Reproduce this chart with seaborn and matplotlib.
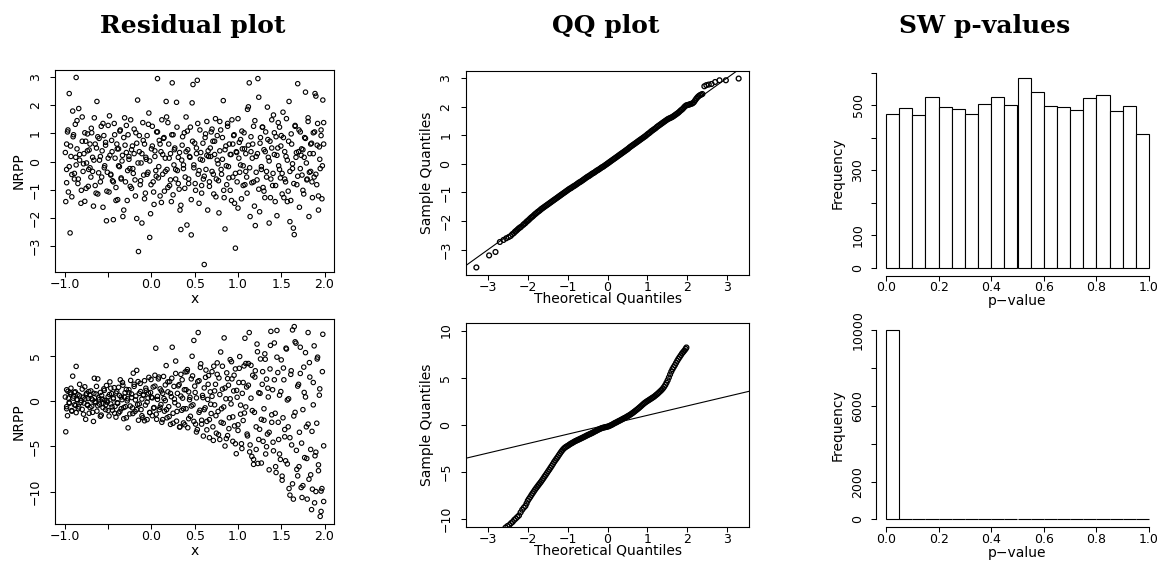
import matplotlib
matplotlib.use("Agg")
import matplotlib.pyplot as plt
import seaborn as sns

# residual plots: x positions (shared by both rows)
res_x = [
    -0.99, -0.98, -0.98, -0.97, -0.96, -0.95, -0.94, -0.93, -0.92, -0.91,
    -0.90, -0.89, -0.88, -0.87, -0.87, -0.86, -0.85, -0.84, -0.83, -0.81,
    -0.80, -0.79, -0.78, -0.77, -0.76, -0.75, -0.74, -0.73, -0.72, -0.71,
    -0.70, -0.69, -0.68, -0.67, -0.66, -0.65, -0.64, -0.63, -0.62, -0.61,
    -0.60, -0.59, -0.58, -0.57, -0.56, -0.55, -0.54, -0.53, -0.52, -0.51,
    -0.50, -0.49, -0.48, -0.47, -0.46, -0.45, -0.44, -0.43, -0.42, -0.41,
    -0.40, -0.39, -0.38, -0.37, -0.36, -0.35, -0.34, -0.33, -0.32, -0.31,
    -0.30, -0.29, -0.28, -0.27, -0.26, -0.25, -0.24, -0.23, -0.22, -0.21,
    -0.20, -0.19, -0.18, -0.17, -0.16, -0.15, -0.14, -0.13, -0.12, -0.11,
    -0.10, -0.09, -0.08, -0.07, -0.06, -0.05, -0.04, -0.03, -0.02, -0.01,
    0.00, 0.01, 0.02, 0.03, 0.04, 0.05, 0.06, 0.07, 0.08, 0.09,
    0.10, 0.11, 0.12, 0.13, 0.14, 0.15, 0.16, 0.17, 0.18, 0.19,
    0.20, 0.21, 0.22, 0.23, 0.24, 0.25, 0.26, 0.27, 0.28, 0.29,
    0.30, 0.31, 0.32, 0.33, 0.34, 0.35, 0.36, 0.37, 0.38, 0.39,
    0.40, 0.41, 0.42, 0.43, 0.44, 0.45, 0.46, 0.47, 0.48, 0.49,
    0.50, 0.51, 0.52, 0.53, 0.54, 0.55, 0.56, 0.57, 0.58, 0.59,
    0.60, 0.61, 0.62, 0.63, 0.64, 0.65, 0.66, 0.67, 0.68, 0.69,
    0.70, 0.71, 0.72, 0.73, 0.74, 0.75, 0.76, 0.77, 0.78, 0.79,
    0.80, 0.81, 0.82, 0.83, 0.84, 0.85, 0.86, 0.87, 0.88, 0.89,
    0.90, 0.91, 0.92, 0.93, 0.94, 0.95, 0.96, 0.97, 0.98, 0.99,
    1.00, 1.01, 1.02, 1.03, 1.04, 1.05, 1.06, 1.07, 1.08, 1.09,
    1.10, 1.11, 1.12, 1.13, 1.14, 1.15, 1.16, 1.17, 1.18, 1.19,
    1.20, 1.21, 1.22, 1.23, 1.24, 1.25, 1.26, 1.27, 1.28, 1.29,
    1.30, 1.31, 1.32, 1.33, 1.34, 1.35, 1.36, 1.37, 1.38, 1.39,
    1.40, 1.41, 1.42, 1.43, 1.44, 1.45, 1.46, 1.47, 1.48, 1.49,
    1.50, 1.51, 1.52, 1.53, 1.54, 1.55, 1.56, 1.57, 1.58, 1.59,
    1.60, 1.61, 1.62, 1.63, 1.64, 1.65, 1.66, 1.67, 1.68, 1.69,
    1.70, 1.71, 1.72, 1.73, 1.74, 1.75, 1.76, 1.77, 1.78, 1.79,
    1.80, 1.81, 1.82, 1.83, 1.84, 1.85, 1.86, 1.87, 1.88, 1.89,
    1.90, 1.91, 1.92, 1.93, 1.94, 1.95, 1.96, 1.97, 1.98, 1.99,
    -0.995, -0.980, -0.965, -0.950, -0.935, -0.920, -0.905, -0.890, -0.875, -0.860,
    -0.845, -0.830, -0.815, -0.800, -0.785, -0.770, -0.755, -0.740, -0.725, -0.710,
    -0.695, -0.680, -0.665, -0.650, -0.635, -0.620, -0.605, -0.590, -0.575, -0.560,
    -0.545, -0.530, -0.515, -0.500, -0.485, -0.470, -0.455, -0.440, -0.425, -0.410,
    -0.395, -0.380, -0.365, -0.350, -0.335, -0.320, -0.305, -0.290, -0.275, -0.260,
    -0.245, -0.230, -0.215, -0.200, -0.185, -0.170, -0.155, -0.140, -0.125, -0.110,
    -0.095, -0.080, -0.065, -0.050, -0.035, -0.020, -0.005, 0.010, 0.025, 0.040,
    0.055, 0.070, 0.085, 0.100, 0.115, 0.130, 0.145, 0.160, 0.175, 0.190,
    0.205, 0.220, 0.235, 0.250, 0.265, 0.280, 0.295, 0.310, 0.325, 0.340,
    0.355, 0.370, 0.385, 0.400, 0.415, 0.430, 0.445, 0.460, 0.475, 0.490,
    0.505, 0.520, 0.535, 0.550, 0.565, 0.580, 0.595, 0.610, 0.625, 0.640,
    0.655, 0.670, 0.685, 0.700, 0.715, 0.730, 0.745, 0.760, 0.775, 0.790,
    0.805, 0.820, 0.835, 0.850, 0.865, 0.880, 0.895, 0.910, 0.925, 0.940,
    0.955, 0.970, 0.985, 1.000, 1.015, 1.030, 1.045, 1.060, 1.075, 1.090,
    1.105, 1.120, 1.135, 1.150, 1.165, 1.180, 1.195, 1.210, 1.225, 1.240,
    1.255, 1.270, 1.285, 1.300, 1.315, 1.330, 1.345, 1.360, 1.375, 1.390,
    1.405, 1.420, 1.435, 1.450, 1.465, 1.480, 1.495, 1.510, 1.525, 1.540,
    1.555, 1.570, 1.585, 1.600, 1.615, 1.630, 1.645, 1.660, 1.675, 1.690,
    1.705, 1.720, 1.735, 1.750, 1.765, 1.780, 1.795, 1.810, 1.825, 1.840,
    1.855, 1.870, 1.885, 1.900, 1.915, 1.930, 1.945, 1.960, 1.975, 1.990,
]

# residual plot, top row (NRPP)
res_top_y = [
    -1.42, 0.62, -0.28, 1.05, -1.08, 2.41, -2.53, 0.18, -0.46, 1.79,
    0.95, -0.62, 1.32, 2.98, -0.12, 0.45, -0.78, 1.88, 0.05, -1.02,
    1.58, -0.35, 0.28, -1.41, 0.72, -0.05, 0.98, -0.88, 0.41, -0.22,
    -0.55, 1.02, 0.15, -1.58, 1.55, 0.62, -1.12, 2.13, 0.88, -0.40,
    0.05, -0.72, 1.25, 0.38, -1.62, 0.92, -0.15, 0.58, -2.10, -0.38,
    1.28, -1.08, 0.22, -0.45, 0.75, -0.68, -2.06, 1.35, 0.12, -0.92,
    0.62, -1.35, 0.45, -0.18, 1.12, -0.58, 0.02, -1.95, 0.85, 1.55,
    -0.72, 0.32, -1.38, 0.95, 0.18, -0.25, 1.48, -0.95, 0.55, -0.42,
    0.28, -0.65, 1.02, -2.02, 2.18, -3.19, 0.35, -0.82, -0.05, -2.18,
    1.38, -0.48, 0.62, -1.12, 0.08, 0.92, -0.38, 1.72, -2.69, -1.85,
    0.45, 1.25, -0.72, -1.52, 0.18, -0.32, 1.05, 2.94, -0.58, 0.75,
    -1.22, 0.35, 1.48, -0.45, 0.82, -1.05, 0.12, 2.13, -0.28, 1.38,
    0.62, -0.85, 0.28, -1.42, 2.79, 0.95, -0.12, 0.48, -0.62, 2.10,
    -0.32, 0.15, -0.98, -1.72, -2.41, 0.05, 0.88, -0.25, 1.02, -0.55,
    1.58, -2.25, 0.42, -0.78, 0.18, 1.22, -2.60, 2.08, 2.73, -0.12,
    0.65, -1.02, 0.28, 2.88, -0.45, -1.48, 1.12, 0.32, -0.85, 0.05,
    -0.62, -3.65, 0.85, -0.28, 1.42, -1.72, 0.18, -0.72, 0.48, 1.05,
    -0.35, 0.72, -1.15, 0.25, 1.52, -0.62, 0.92, -0.08, -1.82, 0.38,
    1.12, -0.45, 0.08, 2.16, -1.28, -2.39, 0.55, -0.82, 1.35, -0.18,
    0.62, -1.02, 0.25, 1.48, -0.55, 0.92, -1.48, -3.07, 0.35, -0.72,
    1.52, 0.12, -0.38, 0.78, -1.32, 0.45, -0.15, 1.02, -0.82, 0.28,
    -0.55, 1.85, 1.94, 2.79, -1.95, 0.35, -0.75, 0.62, 1.25, -1.58,
    -2.27, 0.18, -0.65, 2.94, 2.28, -1.78, 0.85, -0.28, 1.22, -0.92,
    0.42, -1.28, 1.05, -0.35, 1.93, 0.15, -2.18, 0.72, -0.62, 1.48,
    -0.85, 1.65, 0.25, -1.42, 0.88, -1.92, 0.48, -0.15, 1.22, -0.58,
    0.92, -0.42, 1.75, -1.28, 0.35, -0.72, 1.52, 0.05, -1.05, 2.13,
    -2.13, -1.38, 0.62, -0.25, -2.36, -2.59, 1.28, 0.15, -0.82, 2.76,
    0.35, -1.62, 1.05, 0.22, -0.48, 0.42, -1.15, 0.85, 2.46, -0.05,
    -0.62, 1.42, -1.95, 0.28, -0.35, 0.65, -1.28, 1.02, -0.55, 2.41,
    2.32, -0.82, 1.35, -1.72, 0.52, -0.25, 1.12, -1.32, 2.18, 0.62,
    0.32, -0.75, 1.12, -0.18, 0.55, -1.25, 0.88, -0.42, 0.15, 1.45,
    -0.62, 0.25, -1.48, 0.72, -0.08, 1.02, -0.95, 0.38, -0.28, 0.62,
    1.18, -0.35, 0.05, -0.85, 0.48, -1.15, 0.82, 0.18, -0.55, 1.35,
    -0.22, 0.68, -1.05, 0.12, 1.62, -0.48, 0.35, -0.72, 0.95, -1.38,
    0.45, -0.15, 1.08, -0.62, 0.22, -1.72, 0.58, 1.28, -0.32, 0.08,
    -0.88, 0.42, -0.25, 1.15, -1.22, 0.65, -0.05, 0.92, -0.68, 0.28,
    0.75, -1.32, 0.15, -0.45, 1.32, 0.02, -0.82, 0.55, -1.08, 0.38,
    -0.52, 1.05, -0.18, 0.62, -1.45, 0.25, 0.85, -0.35, 1.58, -0.92,
    0.12, -0.65, 0.95, -1.18, 0.42, -0.28, 1.22, -0.78, 0.32, -1.55,
    0.58, -0.12, -0.95, 0.35, 1.08, -0.62, 0.15, -1.35, 0.72, -0.22,
    -0.78, 0.48, 1.35, -0.32, 0.08, -1.12, 0.65, -0.52, 0.98, 0.22,
    0.38, -0.88, 0.18, 1.15, -0.45, 0.72, -1.25, 0.05, -0.68, 1.42,
    -0.28, 0.85, -1.02, 0.42, -0.15, 1.25, -0.58, 0.25, -1.38, 0.62,
    0.95, -0.42, 0.32, -1.65, 0.68, -0.12, 1.08, -0.85, 0.45, -0.35,
    -1.12, 0.58, -0.22, 0.88, 0.12, -0.72, 1.45, -0.38, 0.28, -0.98,
    0.65, -0.18, 1.22, -1.05, 0.35, -0.55, 0.78, 0.02, -1.28, 0.48,
    -0.42, 1.02, -0.85, 0.22, 1.38, -0.28, 0.55, -1.15, 0.85, -0.62,
    0.18, -1.42, 0.72, -0.35, 0.98, -0.08, -0.78, 1.25, 0.32, -0.52,
    1.12, -0.25, 0.45, -1.02, 0.15, 0.82, -0.65, 1.55, -0.38, 0.62,
    -0.72, 0.28, 1.05, -0.45, 0.58, -1.22, 0.08, 0.92, -0.15, 1.38,
]

# residual plot, bottom row (NRPP)
res_bot_y = [
    -3.40, -0.85, 1.25, -1.62, 0.32, -0.15, 0.95, 1.42, -1.05, 2.75,
    0.55, -0.42, 1.02, 3.83, -1.28, 0.18, 0.72, -0.65, 1.85, 0.05,
    -0.92, 0.42, -0.22, 1.58, -2.02, 0.85, -0.48, 0.28, -1.35, 0.65,
    1.12, -0.58, 0.12, -2.25, 2.52, -0.18, 0.78, -1.12, 2.45, 0.35,
    -0.35, 0.95, -1.55, 0.22, -0.72, 1.35, 0.08, -0.95, 1.72, -0.12,
    0.48, -1.65, 2.12, -0.32, 0.82, -1.02, 0.25, 1.48, -0.58, -1.78,
    1.05, -0.25, -1.32, 0.62, 2.35, -0.85, 0.15, 1.75, -1.95, 0.42,
    -0.62, 1.28, 0.02, -2.96, 0.92, -1.42, 2.28, 0.38, -0.75, 3.08,
    1.62, -1.15, 0.55, 3.39, -0.38, -2.12, 0.85, 1.95, -0.95, 0.22,
    -1.85, 0.68, 2.25, -0.45, 1.18, -2.05, 0.32, 2.62, -1.25, 0.95,
    0.42, -1.62, 1.55, -0.72, 2.85, 5.84, -2.02, 0.18, 2.45, -0.95,
    1.35, -0.38, -2.35, 0.85, 2.72, -1.12, 0.05, 3.92, -1.85, 1.02,
    -0.62, 2.15, -2.58, 0.48, 5.95, -1.35, 1.62, -0.18, 4.42, -2.22,
    0.85, -0.45, 1.82, -2.85, 2.95, -1.02, 0.32, -2.42, 1.25, 3.22,
    -0.85, 3.25, -2.95, 1.02, 0.15, -1.68, 2.45, 4.95, -0.42, 6.70,
    1.65, -2.55, 0.35, -3.15, 7.57, 2.25, -1.02, 4.12, -2.12, 0.62,
    -3.87, 1.45, -0.75, 3.42, -2.25, 0.18, 2.82, -4.05, 1.02, -1.38,
    0.52, -2.85, 3.85, -0.42, 1.85, -3.55, 4.22, -1.15, 2.55, -4.25,
    5.42, -0.85, 1.32, -2.45, 6.98, -4.97, 0.25, 3.12, -3.82, 1.75,
    -1.85, 4.58, -0.32, 2.45, -4.45, 1.12, -2.75, 3.55, -5.82, 0.42,
    -3.25, 2.05, 4.92, -1.45, -4.72, 0.85, -2.15, 3.88, 6.94, -0.65,
    1.55, -3.85, 4.15, 7.57, -4.85, 0.32, -6.12, 2.85, -7.00, -1.25,
    3.35, -5.35, 6.30, -6.90, 0.92, -3.12, 4.65, -2.02, 1.85, -4.45,
    -0.85, 5.22, -5.85, 2.42, -3.65, 0.45, -7.60, 3.55, 7.70, -2.35,
    1.25, -5.50, 6.42, -1.35, -7.90, 7.80, 3.15, -4.25, 0.65, -6.45,
    4.55, -8.30, -1.85, 2.35, -3.95, -6.60, 5.75, 0.12, -2.85, -9.67,
    -10.40, 2.95, -4.85, 7.86, -10.84, 8.23, -1.25, 6.40, -7.55, -8.27,
    1.85, -3.45, 5.95, -9.56, -10.66, -0.95, 3.75, -6.25, 0.45, -2.85,
    -10.84, 7.57, -8.64, 2.65, -5.35, -12.00, -9.74, -0.42, 6.10, -6.05,
    -10.00, -2.45, 4.85, -7.70, 0.65, -12.75, -12.20, -9.67, 7.38, -11.10,
    0.45, -0.62, 1.08, -0.25, 0.78, -1.12, 0.32, 0.95, -0.48, 0.12,
    -0.85, 0.58, -0.15, 1.32, -1.45, 0.22, 0.68, -0.38, 1.05, -0.72,
    0.28, -1.25, 0.85, -0.05, 1.62, -0.52, 0.15, -1.68, 0.62, -0.28,
    1.18, -0.42, 0.05, -1.05, 0.72, 1.42, -0.65, 0.35, -1.35, 0.88,
    -0.18, 1.52, -1.15, 0.45, 2.05, -0.72, 0.92, -1.85, 0.25, 1.25,
    -0.55, 0.78, -1.38, 1.85, 0.12, -0.95, 2.15, -0.32, 1.05, -1.62,
    0.65, -2.18, 1.42, -0.12, 0.88, -1.28, 2.38, 0.35, -0.78, 1.65,
    -1.45, 0.52, 2.65, -0.68, 1.12, -2.05, 0.28, 1.78, -0.95, 2.12,
    -1.72, 0.85, 2.52, -2.45, 0.22, 3.05, -1.15, 1.68, -2.88, 0.55,
    2.35, -0.85, -2.62, 1.25, 3.48, -1.95, 0.42, -0.55, 2.78, -2.25,
    0.95, -3.42, 2.15, -1.25, 3.72, -2.55, 0.38, -0.95, 2.62, -3.18,
    1.85, -2.05, -0.35, 3.25, -4.35, 1.12, -1.62, 2.95, -3.72, 0.72,
    -2.35, 3.85, -0.65, 1.45, -4.15, 2.48, -3.05, 0.25, 4.35, -1.75,
    2.85, -4.72, 1.18, -2.62, 3.62, -0.45, -5.25, 2.05, -1.32, 4.15,
    -3.65, 1.75, -5.62, 3.95, -1.05, -6.45, 2.65, -2.85, 5.45, -4.25,
    0.85, -6.85, 3.25, -2.12, 4.62, -5.05, 1.42, -3.45, 6.15, -1.52,
    -4.55, 2.35, -7.25, 4.85, -2.35, -5.85, 1.05, -8.75, 3.65, -3.15,
    5.85, -6.95, 0.25, -4.05, 3.35, -9.15, -1.65, 6.55, -5.45, 1.65,
    -7.25, 3.05, -4.65, -9.35, 0.95, 5.35, -6.35, -2.55, 4.25, -8.15,
    -3.35, 2.05, -11.25, -5.65, 4.65, -7.05, 1.35, -9.95, 3.25, -4.95,
]

# QQ plot, top row (theoretical quantile, sample quantile)
qq_top_theo = [
    -3.29, -2.97, -2.81, -2.70, -2.61, -2.54, -2.48, -2.43, -2.39, -2.35,
    -2.32, -2.29, -2.26, -2.23, -2.20, -2.17,
    -2.12, -2.09, -2.06, -2.03, -2.00, -1.97, -1.94, -1.91, -1.88, -1.85,
    -1.82, -1.79, -1.76, -1.73, -1.70, -1.67, -1.64, -1.61, -1.58, -1.55,
    -1.52, -1.49, -1.46, -1.43, -1.40, -1.37, -1.34, -1.31, -1.28, -1.25,
    -1.22, -1.19, -1.16, -1.13, -1.10, -1.07, -1.04, -1.01, -0.98, -0.95,
    -0.92, -0.89, -0.86, -0.83, -0.80, -0.77, -0.74, -0.71, -0.68, -0.65,
    -0.62, -0.59, -0.56, -0.53, -0.50, -0.47, -0.44, -0.41, -0.38, -0.35,
    -0.32, -0.29, -0.26, -0.23, -0.20, -0.17, -0.14, -0.11, -0.08, -0.05,
    -0.02, 0.01, 0.04, 0.07, 0.10, 0.13, 0.16, 0.19, 0.22, 0.25,
    0.28, 0.31, 0.34, 0.37, 0.40, 0.43, 0.46, 0.49, 0.52, 0.55,
    0.58, 0.61, 0.64, 0.67, 0.70, 0.73, 0.76, 0.79, 0.82, 0.85,
    0.88, 0.91, 0.94, 0.97, 1.00, 1.03, 1.06, 1.09, 1.12, 1.15,
    1.18, 1.21, 1.24, 1.27, 1.30, 1.33, 1.36, 1.39, 1.42, 1.45,
    1.48, 1.51, 1.54, 1.57, 1.60, 1.63, 1.66, 1.69, 1.72, 1.75,
    1.78, 1.81, 1.84, 1.87, 1.90, 1.93, 1.96, 1.99, 2.02, 2.05,
    2.08, 2.11, 2.14, 2.17, 2.20, 2.23, 2.26, 2.29, 2.32, 2.35, 2.38,
    2.43, 2.48, 2.54, 2.61, 2.70, 2.81, 2.97, 3.29,
]
qq_top_sample = [
    -3.62, -3.20, -3.08, -2.73, -2.66, -2.60, -2.56, -2.52, -2.46, -2.42,
    -2.37, -2.34, -2.30, -2.26, -2.23, -2.20,
    -2.14, -2.10, -2.07, -2.02, -1.99, -1.95, -1.91, -1.87, -1.84, -1.80,
    -1.76, -1.73, -1.69, -1.66, -1.63, -1.59, -1.56, -1.53, -1.50, -1.47,
    -1.44, -1.41, -1.38, -1.35, -1.32, -1.29, -1.26, -1.23, -1.20, -1.17,
    -1.14, -1.11, -1.08, -1.05, -1.02, -0.99, -0.96, -0.93, -0.90, -0.87,
    -0.85, -0.82, -0.79, -0.77, -0.74, -0.71, -0.68, -0.65, -0.63, -0.60,
    -0.57, -0.54, -0.51, -0.48, -0.45, -0.43, -0.40, -0.37, -0.34, -0.32,
    -0.29, -0.26, -0.23, -0.21, -0.18, -0.15, -0.12, -0.10, -0.07, -0.04,
    -0.01, 0.02, 0.05, 0.08, 0.11, 0.14, 0.17, 0.20, 0.23, 0.26,
    0.29, 0.32, 0.35, 0.38, 0.41, 0.44, 0.47, 0.50, 0.53, 0.57,
    0.60, 0.63, 0.66, 0.69, 0.72, 0.75, 0.78, 0.81, 0.84, 0.87,
    0.90, 0.93, 0.96, 0.99, 1.03, 1.06, 1.09, 1.13, 1.16, 1.19,
    1.22, 1.25, 1.29, 1.32, 1.35, 1.38, 1.41, 1.44, 1.47, 1.50,
    1.53, 1.56, 1.58, 1.60, 1.62, 1.64, 1.67, 1.70, 1.73, 1.76,
    1.79, 1.83, 1.87, 1.90, 1.94, 1.99, 2.03, 2.05, 2.06, 2.07,
    2.09, 2.10, 2.12, 2.16, 2.22, 2.28, 2.33, 2.37, 2.40, 2.42, 2.44,
    2.71, 2.75, 2.77, 2.79, 2.86, 2.92, 2.92, 2.98,
]

# QQ plot, bottom row
qq_bot_theo = [
    -2.56, -2.51, -2.46, -2.42, -2.38, -2.34, -2.30, -2.26, -2.22, -2.18,
    -2.14, -2.10, -2.06, -2.03,
    -2.00, -1.97, -1.94, -1.91, -1.88, -1.85, -1.82, -1.79, -1.76, -1.73,
    -1.70, -1.67, -1.64, -1.61, -1.58, -1.55, -1.52, -1.49, -1.46, -1.43,
    -1.40, -1.37, -1.34, -1.31, -1.28, -1.25, -1.22, -1.19, -1.16, -1.13,
    -1.10, -1.07, -1.04, -1.01, -0.98, -0.95, -0.92, -0.89, -0.86, -0.83,
    -0.80, -0.77, -0.74, -0.71, -0.68, -0.65, -0.62, -0.59, -0.56, -0.53,
    -0.50, -0.47, -0.44, -0.41, -0.38, -0.35, -0.32, -0.29, -0.26, -0.23,
    -0.20, -0.17, -0.14, -0.11, -0.08, -0.05, -0.02, 0.01, 0.04, 0.07,
    0.10, 0.13, 0.16, 0.19, 0.22, 0.25, 0.28, 0.31, 0.34, 0.37,
    0.40, 0.43, 0.46, 0.49, 0.52, 0.55, 0.58, 0.61, 0.64, 0.67,
    0.70, 0.73, 0.76, 0.79, 0.82, 0.85, 0.88, 0.91, 0.94, 0.97,
    1.00, 1.03, 1.06, 1.09, 1.12, 1.15, 1.18, 1.21, 1.24, 1.27,
    1.30, 1.33, 1.36, 1.39, 1.42, 1.45, 1.48, 1.51, 1.54, 1.57,
    1.60, 1.63, 1.66, 1.69, 1.72, 1.75, 1.78, 1.81, 1.84, 1.87,
    1.90, 1.93, 1.96, 1.98,
]
qq_bot_sample = [
    -10.92, -10.75, -10.62, -10.45, -10.31, -10.10, -9.95, -9.78, -9.62, -9.30,
    -9.02, -8.80, -8.62, -8.35,
    -8.06, -7.86, -7.68, -7.47, -7.28, -7.09, -6.90, -6.73, -6.56, -6.39,
    -6.22, -6.06, -5.88, -5.70, -5.50, -5.32, -5.13, -4.94, -4.76, -4.56,
    -4.37, -4.17, -3.96, -3.78, -3.60, -3.42, -3.22, -3.04, -2.86, -2.69,
    -2.54, -2.43, -2.34, -2.26, -2.18, -2.09, -2.01, -1.94, -1.86, -1.79,
    -1.72, -1.66, -1.60, -1.54, -1.48, -1.42, -1.36, -1.29, -1.23, -1.16,
    -1.10, -1.04, -0.98, -0.92, -0.86, -0.79, -0.72, -0.66, -0.58, -0.52,
    -0.46, -0.40, -0.35, -0.31, -0.28, -0.25, -0.22, -0.19, -0.14, -0.08,
    -0.02, 0.05, 0.12, 0.20, 0.25, 0.32, 0.39, 0.45, 0.52, 0.59,
    0.66, 0.72, 0.79, 0.87, 0.94, 1.02, 1.10, 1.19, 1.28, 1.38,
    1.48, 1.58, 1.68, 1.79, 1.90, 2.01, 2.13, 2.24, 2.34, 2.43,
    2.52, 2.60, 2.68, 2.76, 2.85, 2.93, 3.02, 3.13, 3.23, 3.34,
    3.46, 3.58, 3.71, 3.85, 4.02, 4.22, 4.46, 4.72, 5.02, 5.34,
    5.64, 5.90, 6.12, 6.33, 6.56, 6.79, 7.00, 7.19, 7.38, 7.57,
    7.72, 7.88, 8.05, 8.20,
]
qq_bot_ylim = (-10.85, 10.8)
qq_theo_lim = (-3.55, 3.55)

# Shapiro-Wilk p-value histograms
pval_edges = [0.00, 0.05, 0.10, 0.15, 0.20, 0.25, 0.30, 0.35, 0.40, 0.45, 0.50,
              0.55, 0.60, 0.65, 0.70, 0.75, 0.80, 0.85, 0.90, 0.95, 1.00]
pval_top_counts = [473, 493, 471, 525, 495, 488, 474, 505, 525, 501,
                   584, 542, 497, 494, 487, 524, 531, 484, 499, 412]
pval_bot_counts = [10000, 0, 0, 0, 0, 0, 0, 0, 0, 0,
                   0, 0, 0, 0, 0, 0, 0, 0, 0, 0]

MINUS = "\u2212"

sns.set_style("ticks", rc={"axes.edgecolor": "black", "xtick.color": "black",
                           "ytick.color": "black", "text.color": "black"})
plt.rcParams["font.family"] = ["DejaVu Sans"]

W, H = 1163, 561
fig = plt.figure(figsize=(W / 100, H / 100), dpi=100)


def panel(l, t, r, b):
    return fig.add_axes([l / W, 1 - b / H, (r - l) / W, (b - t) / H])


def label(x, y, s, rot=0):
    fig.text(x / W, 1 - y / H, s, ha="center", va="center", rotation=rot, fontsize=10)


def fmt(v, nd):
    return f"{v:.{nd}f}".replace("-", MINUS)


def r_lim(vals):
    # R style: data range plus 4% on both sides
    lo, hi = min(vals), max(vals)
    pad = 0.04 * (hi - lo)
    return lo - pad, hi + pad


def style(ax, ypad, box=True):
    for sp in ax.spines.values():
        sp.set_linewidth(0.8)
        sp.set_visible(box)
    ax.tick_params(direction="out", length=3.4, width=0.75, labelsize=9)
    ax.tick_params(axis="x", pad=0.8)
    ax.tick_params(axis="y", pad=ypad)
    ax.set_xlabel("")
    ax.set_ylabel("")


def scatter(ax, x, y, s=10, lw=0.8):
    sns.scatterplot(x=x, y=y, ax=ax, s=s, marker="o", facecolor="none",
                    edgecolor="black", linewidth=lw, legend=False)


# residual plots
for (t, b), yv, yt in [((70, 272), res_top_y, [-3, -2, -1, 0, 1, 2, 3]),
                       ((319, 524), res_bot_y, [-10, -5, 0, 5])]:
    ax = panel(55, t, 334, b)
    scatter(ax, res_x, yv)
    ax.set_xlim(r_lim(res_x))
    ax.set_ylim(r_lim(yv))
    xt = [-1.0, -0.5, 0.0, 0.5, 1.0, 1.5, 2.0]
    ax.set_xticks(xt, [fmt(v, 1) if v != -0.5 else "" for v in xt])
    ax.set_yticks(yt, [fmt(v, 0) for v in yt], rotation=90, va="center")
    style(ax, 6.2)
    label(194.5, b + 27, "x")
    label(18.5, (t + b) / 2, "NRPP", 90)

# QQ plots
for (t, b), xs, ys, ylim, yt in [
        ((71, 275), qq_top_theo, qq_top_sample, r_lim(qq_top_sample), [-3, -2, -1, 0, 1, 2, 3]),
        ((323, 527), qq_bot_theo, qq_bot_sample, qq_bot_ylim, [-10, -5, 0, 5, 10])]:
    ax = panel(466, t, 749, b)
    scatter(ax, xs, ys, s=12, lw=0.95)
    ax.axline((0, 0), slope=1, color="black", linewidth=0.8)
    ax.set_xlim(qq_theo_lim)
    ax.set_ylim(ylim)
    xt = [-3, -2, -1, 0, 1, 2, 3]
    ax.set_xticks(xt, [fmt(v, 0) for v in xt])
    ax.set_yticks(yt, [fmt(v, 0) for v in yt], rotation=90, va="center")
    style(ax, 6.5)
    label(607.5, b + 24, "Theoretical Quantiles")
    label(427.5, (t + b) / 2, "Sample Quantiles", 90)

# p-value histograms
centers = [(a + c) / 2 for a, c in zip(pval_edges[:-1], pval_edges[1:])]
for (t, b), counts, yt, ylab in [
        ((70.5, 275.5), pval_top_counts, [0, 100, 200, 300, 400, 500, 600],
         ["0", "100", "", "300", "", "500", ""]),
        ((322.7, 527), pval_bot_counts, [0, 2000, 4000, 6000, 8000, 10000],
         ["0", "2000", "", "6000", "", "10000"])]:
    ax = panel(875.5, t, 1159.5, b)
    sns.histplot(x=centers, weights=counts, bins=pval_edges, ax=ax,
                 color="white", edgecolor="black", linewidth=0.8, alpha=1)
    top = max(counts)
    ax.set_xlim(-0.04, 1.04)
    ax.set_ylim(-0.04 * top, 1.04 * top)
    xt = [0.0, 0.2, 0.4, 0.6, 0.8, 1.0]
    ax.set_xticks(xt, [fmt(v, 1) for v in xt])
    ax.set_yticks(yt, ylab, rotation=90, va="center")
    style(ax, 4.5, box=False)
    ax.spines["left"].set_visible(True)
    ax.spines["bottom"].set_visible(True)
    ax.spines["left"].set_bounds(yt[0], yt[-1])
    ax.spines["bottom"].set_bounds(0, 1)
    label(1017.5, b + 26, "p" + MINUS + "value")
    label(838, (t + b) / 2, "Frequency", 90)

# column titles
for x, s in [(192.5, "Residual plot"), (606, "QQ plot"), (985, "SW p-values")]:
    fig.text(x / W, 1 - 33 / H, s, ha="center", va="baseline",
             fontsize=18, fontweight="bold", family="DejaVu Serif")

fig.savefig("out.png", dpi=100)
